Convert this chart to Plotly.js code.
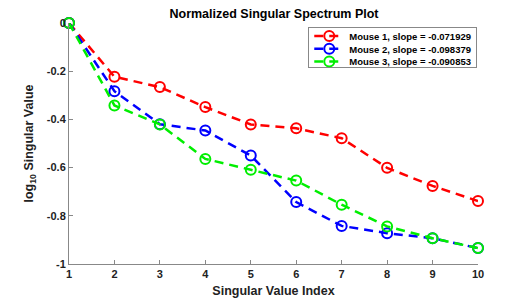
<!DOCTYPE html>
<html>
<head>
<meta charset="utf-8">
<script src="https://cdn.plot.ly/plotly-3.0.1.min.js"></script>
<style>html,body{margin:0;padding:0;background:#fff;}#chart{width:529px;height:298px;}</style>
</head>
<body>
<div id="chart"></div>
<script>
const idx = [1, 2, 3, 4, 5, 6, 7, 8, 9, 10];
const mouse1 = [0, -0.223, -0.266, -0.349, -0.421, -0.437, -0.478, -0.601, -0.676, -0.739];
const mouse2 = [0, -0.283, -0.420, -0.446, -0.550, -0.743, -0.842, -0.872, -0.893, -0.934];
const mouse3 = [0, -0.342, -0.421, -0.564, -0.609, -0.654, -0.754, -0.844, -0.893, -0.934];
const names = ['Mouse 1, slope = -0.071929', 'Mouse 2, slope = -0.098379', 'Mouse 3, slope = -0.090853'];
const colors = ['#ff0000', '#0000ff', '#00ee00'];
const series = [mouse1, mouse2, mouse3];

const traces = series.map((ys, i) => ({
  x: idx, y: ys, name: names[i], type: 'scatter', mode: 'lines+markers',
  cliponaxis: false,
  line: {color: colors[i], width: 2.5, dash: '9px,6px'},
  marker: {symbol: 'circle-open', size: 10, color: colors[i], line: {width: 2, color: colors[i]}}
}));

const font = {family: 'Liberation Sans, Arial, sans-serif', color: '#222'};
const layout = {
  width: 529, height: 298,
  margin: {l: 69, r: 51, t: 23, b: 34},
  paper_bgcolor: '#fff', plot_bgcolor: '#fff',
  showlegend: true,
  title: {text: '<b>Normalized Singular Spectrum Plot</b>', font: Object.assign({size: 12.5}, font, {color: '#000'}), x: 0.518, xanchor: 'center', y: 0.955, yanchor: 'middle'},
  xaxis: {
    range: [1, 10], tickvals: idx, ticktext: idx.map(String),
    ticks: 'inside', ticklen: 4, tickcolor: '#888', showline: true, linecolor: '#888', linewidth: 1,
    showgrid: false, zeroline: false,
    tickfont: Object.assign({size: 11, weight: 'bold'}, font),
    title: {text: '<b>Singular Value Index</b>', font: Object.assign({size: 12.5}, font), standoff: 7}
  },
  yaxis: {
    range: [-1, 0], tickvals: [-1, -0.8, -0.6, -0.4, -0.2, 0], ticktext: ['-1', '-0.8', '-0.6', '-0.4', '-0.2', '0'],
    ticks: 'inside', ticklen: 4, tickcolor: '#888', showline: true, linecolor: '#888', linewidth: 1,
    showgrid: false, zeroline: false,
    tickfont: Object.assign({size: 11, weight: 'bold'}, font),
    title: {text: '<b>log<sub>10</sub> Singular Value</b>', font: Object.assign({size: 12.5}, font), standoff: 10}
  },
  legend: {
    x: 0.585, y: 0.985, xanchor: 'left', yanchor: 'top',
    bordercolor: '#888', borderwidth: 1, bgcolor: '#fff',
    font: Object.assign({size: 9.5, weight: 'bold'}, font, {color: '#000'}),
    itemwidth: 30, tracegroupgap: 0
  }
};
const gd = document.getElementById('chart');
Plotly.newPlot(gd, traces, layout, {displayModeBar: false, staticPlot: true}).then(() => {
  // tighten legend row spacing to match the compact reference legend
  const rowH = 12.7, boxH = 40;
  const items = gd.querySelectorAll('.legend .traces');
  let y0 = null;
  items.forEach((el, i) => {
    const m = /translate\(([-\d.]+)[ ,]+([-\d.]+)\)/.exec(el.getAttribute('transform') || '');
    if (!m) return;
    const x = parseFloat(m[1]), y = parseFloat(m[2]);
    if (y0 === null) y0 = y;
    el.setAttribute('transform', 'translate(' + x + ',' + (y0 - 6 + i * rowH) + ')');
  });
  const bg = gd.querySelector('.legend .bg');
  if (bg) bg.setAttribute('height', boxH);
  gd.querySelectorAll('.legend clipPath rect, defs clipPath[id*="legend"] rect').forEach(r => r.setAttribute('height', boxH));
});
</script>
</body>
</html>
